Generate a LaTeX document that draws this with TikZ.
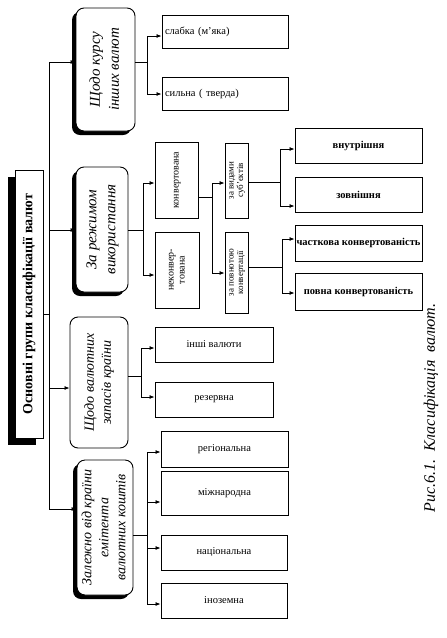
\documentclass[tikz,border=0pt]{standalone}
\usepackage{fontspec}
\setmainfont{Liberation Serif}
\usetikzlibrary{arrows.meta,shadows}
\newcommand{\vtxt}[1]{\rotatebox{90}{\begin{tabular}{@{}c@{}}#1\end{tabular}}}
\begin{document}
\begin{tikzpicture}[x=1pt,y=-1pt,
  box/.style={draw, line width=0.9pt, inner sep=0pt, align=center, fill=white},
  cat/.style={box, rounded corners=8pt},
  catsh/.style={drop shadow={shadow xshift=-4pt, shadow yshift=-4pt, fill=black, opacity=1}},
  arr/.style={-{Latex[length=5pt,width=4pt]}, line width=0.8pt},
  ln/.style={line width=0.8pt},
  sm/.style={font=\fontsize{10.5}{12}\selectfont},
  smb/.style={font=\fontsize{10.5}{12}\selectfont\bfseries},
  wide/.style={box, minimum width=127pt, minimum height=35pt},
]
\useasboundingbox (0,0) rectangle (447,638);

% main box
\node[box, minimum width=28pt, minimum height=268pt,
  drop shadow={shadow xshift=-7pt, shadow yshift=-7pt, fill=black, opacity=1}]
  (main) at (29,304) {\rotatebox{90}{\fontsize{14}{16}\selectfont\bfseries Основні групи класифікації валют}};

% categories
\node[cat, catsh, minimum width=59pt, minimum height=123pt, font=\fontsize{15}{19}\selectfont\itshape]
  (c1) at (105.5,69.5) {\vtxt{Щодо курсу\\інших валют}};
\node[cat, catsh, minimum width=52pt, minimum height=125pt, font=\fontsize{15}{19}\selectfont\itshape]
  (c2) at (102,229.5) {\vtxt{За режимом\\використання}};
\node[cat, minimum width=58pt, minimum height=131pt, font=\fontsize{14}{17}\selectfont\itshape]
  (c3) at (99,382.5) {\vtxt{Щодо валютних\\запасів країни}};
\node[cat, catsh, minimum width=56pt, minimum height=135pt, font=\fontsize{14}{17}\selectfont\itshape]
  (c4) at (105,527.5) {\vtxt{Залежно від країни\\емітента\\валютних коштів}};

% trunk
\coordinate (t1) at (49,62);
\coordinate (t2) at (49,230);
\coordinate (t3) at (49,388);
\coordinate (t4) at (49,509);
\coordinate (tm) at (49,314);
\draw[ln] (t1) -- (t4);
\draw[ln] (main.east |- tm) -- (tm);
\draw[arr] (t1) -- (t1 -| c1.west);
\draw[arr] (t2) -- (t2 -| c2.west);
\draw[arr] (t3) -- (t3 -| c3.west);
\draw[arr] (t4) -- (t4 -| c4.west);

% group 1
\node[box, sm, minimum width=126pt, minimum height=33pt, text width=120pt, align=left]
  (s1) at (225,31.5) {слабка (м’яка)};
\node[box, sm, minimum width=126pt, minimum height=33pt, text width=120pt, align=left]
  (s2) at (225,93.5) {сильна ( тверда)};
\coordinate (j1) at (147,62);
\coordinate (a1) at (147,36);
\coordinate (a2) at (147,94);
\draw[ln] (c1.east |- j1) -- (j1);
\draw[ln] (a1) -- (a2);
\draw[arr] (a1) -- (a1 -| s1.west);
\draw[arr] (a2) -- (a2 -| s2.west);

% group 2
\node[box, minimum width=43pt, minimum height=76pt, font=\fontsize{10}{11}\selectfont]
  (k1) at (176.5,180) {\vtxt{конвертована}};
\node[box, minimum width=44pt, minimum height=76pt, font=\fontsize{10}{11}\selectfont]
  (k2) at (177,270) {\vtxt{неконвер-\\тована}};
\coordinate (j2) at (143,230);
\coordinate (b1) at (143,183);
\coordinate (b2) at (143,275);
\draw[ln] (c2.east |- j2) -- (j2);
\draw[ln] (b1) -- (b2);
\draw[arr] (b1) -- (b1 -| k1.west);
\draw[arr] (b2) -- (b2 -| k2.west);

\node[box, minimum width=23pt, minimum height=75pt, font=\fontsize{9}{9.5}\selectfont]
  (v1) at (236.5,180.5) {\vtxt{за видами\\суб’єктів}};
\node[box, minimum width=23pt, minimum height=81pt, font=\fontsize{9}{9.5}\selectfont]
  (v2) at (236.5,272.5) {\vtxt{за повнотою\\конвертації}};
\coordinate (j3) at (212,197);
\coordinate (b3) at (212,183);
\coordinate (b4) at (212,273);
\draw[ln] (k1.east |- j3) -- (j3);
\draw[ln] (b3) -- (b4);
\draw[arr] (b3) -- (b3 -| v1.west);
\draw[arr] (b4) -- (b4 -| v2.west);

\node[wide, smb] (w1) at (358.5,145.5) {внутрішня};
\node[wide, smb] (w2) at (358.5,194.5) {зовнішня};
\node[wide, smb, minimum height=36pt] (w3) at (358.5,243) {часткова конвертованість};
\node[wide, smb, minimum height=37pt] (w4) at (358.5,291.5) {повна конвертованість};
\coordinate (j4) at (280,182);
\coordinate (b5) at (280,149);
\coordinate (b6) at (280,206);
\draw[ln] (v1.east |- j4) -- (j4);
\draw[ln] (b5) -- (b6);
\draw[arr] (b5) -- (b5 -| w1.west);
\draw[arr] (b6) -- (b6 -| w2.west);
\coordinate (j5) at (282,267);
\coordinate (b7) at (282,239);
\coordinate (b8) at (282,293);
\draw[ln] (v2.east |- j5) -- (j5);
\draw[ln] (b7) -- (b8);
\draw[arr] (b7) -- (b7 -| w3.west);
\draw[arr] (b8) -- (b8 -| w4.west);

% group 3
\node[box, sm, minimum width=118pt, minimum height=35pt] (r1) at (214,344.5) {інші валюти};
\node[box, sm, minimum width=118pt, minimum height=35pt] (r2) at (214,399.5) {резервна};
\coordinate (j6) at (141,376);
\coordinate (b9) at (141,348);
\coordinate (b10) at (141,397);
\draw[ln] (c3.east |- j6) -- (j6);
\draw[ln] (b9) -- (b10);
\draw[arr] (b9) -- (b9 -| r1.west);
\draw[arr] (b10) -- (b10 -| r2.west);

% group 4
\node[wide, sm, minimum height=36pt] (e1) at (224.5,449) {регіональна};
\node[wide, sm, minimum height=44pt] (e2) at (224.5,493) {міжнародна};
\node[wide, sm, minimum width=126pt] (e3) at (224,552.5) {національна};
\node[wide, sm, minimum width=126pt] (e4) at (224,600.5) {іноземна};
\coordinate (j7) at (147,535);
\coordinate (b11) at (147,452);
\coordinate (b12) at (147,502);
\coordinate (b13) at (147,548);
\coordinate (b14) at (147,604);
\draw[ln] (c4.east |- j7) -- (j7);
\draw[ln] (b11) -- (b14);
\draw[arr] (b11) -- (b11 -| e1.west);
\draw[arr] (b12) -- (b12 -| e2.west);
\draw[arr] (b13) -- (b13 -| e3.west);
\draw[arr] (b14) -- (b14 -| e4.west);

% caption
\node[rotate=90, font=\fontsize{16}{18}\selectfont\itshape] (cap) at (431,408) {Рис.6.1.\ \ Класифікація\ \ валют.};
\end{tikzpicture}
\end{document}
